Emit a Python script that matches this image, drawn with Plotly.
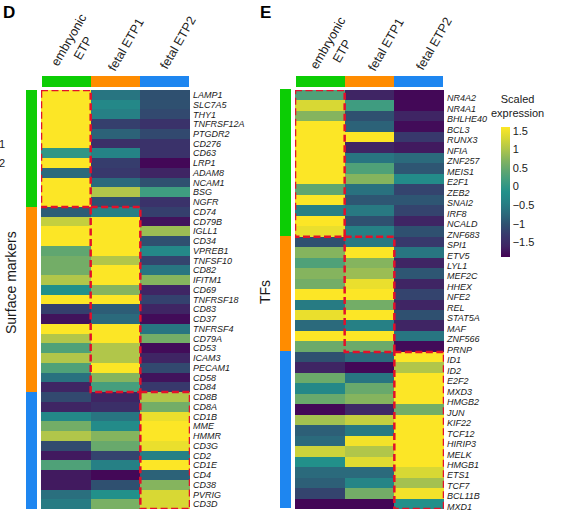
import plotly.graph_objects as go

W, H = 577, 523

d_genes = ["LAMP1","SLC7A5","THY1","TNFRSF12A","PTGDR2","CD276","CD63","LRP1","ADAM8","NCAM1","BSG","NGFR",
           "CD74","CD79B","IGLL1","CD34","VPREB1","TNFSF10","CD82","IFITM1","CD69","TNFRSF18","CD83","CD37","TNFRSF4","CD79A","CD53","ICAM3","PECAM1","CD58","CD84",
           "CD8B","CD8A","CD1B","MME","HMMR","CD3G","CD2","CD1E","CD4","CD38","PVRIG","CD3D"]
d_emb = [1.6,1.6,1.6,1.6,1.6,1.6,0.0,1.6,-0.73,1.6,1.6,1.6,
         -0.88,1.17,1.6,1.6,0.44,0.59,0.59,1.03,-0.15,1.6,-1.23,-1.75,1.6,1.03,0.29,1.03,0.29,-0.64,-1.61,
         -1.11,-1.61,-0.29,0.59,1.03,-1.08,-1.70,0.29,-1.70,-1.70,-0.67,-0.50]
d_f1 = [-0.58,-0.29,-0.44,-1.23,-0.82,-1.46,-0.38,-1.26,-1.32,-0.73,1.03,-1.02,
        -0.44,1.6,1.6,1.6,1.6,1.03,1.6,1.6,0.73,1.6,-0.88,-0.73,1.6,1.6,1.03,1.03,1.6,0.73,0.21,
        -1.61,-1.46,-0.58,-0.23,0.73,0.50,-1.17,-0.44,-1.84,-1.02,-0.15,0.64]
d_f2 = [-1.02,-1.02,-1.11,-1.40,-1.11,-1.40,-1.40,-1.84,-1.61,-1.02,0.15,-1.40,
        -1.23,-1.75,0.88,-1.02,-0.29,-1.17,-0.58,0.73,-1.61,-1.20,-1.61,-1.81,-0.58,0.59,-1.81,-1.61,-1.11,-1.75,-1.32,
        1.03,0.59,1.46,1.6,1.6,1.46,-0.44,1.6,-0.82,0.73,1.32,1.32]

e_genes = ["NR4A2","NR4A1","BHLHE40","BCL3","RUNX3","NFIA","ZNF257","MEIS1","E2F1","ZEB2","SNAI2","IRF8","NCALD","ZNF683",
           "SPI1","ETV5","LYL1","MEF2C","HHEX","NFE2","REL","STAT5A","MAF","ZNF566","PRNP",
           "ID1","ID2","E2F2","MXD3","HMGB2","JUN","KIF22","TCF12","HIRIP3","MELK","HMGB1","ETS1","TCF7","BCL11B","MXD1"]
e_emb = [0.29,1.32,0.73,1.6,1.6,1.6,1.6,1.6,1.6,0.44,1.6,-0.44,1.6,1.46,
         -1.02,0.73,0.29,0.73,0.59,1.6,-0.50,1.46,-0.73,1.6,0.53,
         -1.02,-1.61,0.53,-0.29,0.50,-1.84,0.94,-0.85,-0.73,1.23,-0.15,-0.73,-0.85,-1.17,-1.87]
e_f1 = [-1.61,0.15,-1.02,-0.82,1.6,-1.61,-0.58,0.29,0.73,-0.64,-0.96,-0.53,-1.02,-0.44,
        -0.53,1.6,0.73,0.88,1.46,1.6,0.59,1.6,-0.44,1.6,0.53,
        -0.73,-1.84,-0.58,0.50,0.73,-1.55,1.17,-0.53,1.52,1.03,1.38,-0.73,-0.35,0.59,-1.87]
e_f2 = [-1.84,-1.84,-1.61,-1.81,-1.32,-1.70,-0.73,-0.96,-0.23,-1.17,-0.96,-1.17,-1.61,-1.02,
        -1.32,-0.58,-1.61,-0.96,-1.61,-1.17,-1.61,-1.02,-1.61,-0.58,-1.81,
        1.6,1.03,1.6,1.6,1.6,0.59,1.6,1.6,1.6,1.6,1.6,1.32,0.94,1.52,-0.15]

columns = ["embryonic<br>ETP", "fetal ETP1", "fetal ETP2"]
d_group_sizes = [12, 19, 12]
e_group_sizes = [14, 11, 15]
group_colors = ["#0CCD05", "#FF8C00", "#1E86F0"]
colorbar_ticks = [1.5, 1, 0.5, 0, -0.5, -1, -1.5]
colorbar_labels = ["1.5", "1", "0.5", "0", "\u22120.5", "\u22121", "\u22121.5"]

palette = ["#440154","#3F2564","#38386C","#2F5070","#2B6A7C","#268085","#22908A",
           "#3F9C80","#60A670","#85B45E","#B0C64A","#D8D834","#FDE725"]
cscale = [[i / (len(palette) - 1), c] for i, c in enumerate(palette)]
ZMIN, ZMAX = -1.9, 1.61
FONT = "Liberation Sans"
TXT = "#1a1a1a"

def xd(a, b): return [a / W, b / W]
def yd(top, bottom): return [1 - bottom / H, 1 - top / H]

fig = go.Figure()

def panel(start, genes, cols, sizes, main_x, main_y, top_x, top_y, side_x, side_y, shift):
    mx, my = (f"x{start}", f"y{start}")
    tx, ty = (f"x{start+1}", f"y{start+1}")
    sx, sy = (f"x{start+2}", f"y{start+2}")
    n = len(genes)
    z = [list(r) for r in zip(*cols)]
    fig.add_trace(go.Heatmap(z=z, x=[0,1,2], y=list(range(n)), xaxis=mx, yaxis=my,
                             colorscale=cscale, zmin=ZMIN, zmax=ZMAX, showscale=False, hoverinfo="skip"))
    fig.add_trace(go.Heatmap(z=[[0,1,2]], x=[0,1,2], y=[0], xaxis=tx, yaxis=ty,
                             colorscale=[[0,group_colors[0]],[0.5,group_colors[1]],[1,group_colors[2]]],
                             showscale=False, hoverinfo="skip"))
    group_idx = [g for g, s in enumerate(sizes) for _ in range(s)]
    fig.add_trace(go.Heatmap(z=[[g] for g in group_idx], x=[0], y=list(range(n)), xaxis=sx, yaxis=sy,
                             colorscale=[[0,group_colors[0]],[0.5,group_colors[1]],[1,group_colors[2]]],
                             showscale=False, hoverinfo="skip"))
    ax = dict(showgrid=False, zeroline=False, showticklabels=False, ticks="", showline=False)
    fig.update_layout({
        f"xaxis{start}": dict(ax, domain=xd(*main_x), range=[-0.5,2.5], anchor=my),
        f"yaxis{start}": dict(showgrid=False, zeroline=False, showline=False, domain=yd(*main_y),
                              range=[n-0.5,-0.5], anchor=mx, side="right", ticks="", tickmode="array",
                              tickvals=list(range(n)), ticktext=genes, ticklabelshift=shift, ticklabelstandoff=2,
                              tickfont=dict(family=FONT, size=9, style="italic", color=TXT)),
        f"xaxis{start+1}": dict(ax, domain=xd(*top_x), range=[-0.5,2.5], anchor=ty),
        f"yaxis{start+1}": dict(ax, domain=yd(*top_y), range=[-0.5,0.5], anchor=tx),
        f"xaxis{start+2}": dict(ax, domain=xd(*side_x), range=[-0.5,0.5], anchor=sy),
        f"yaxis{start+2}": dict(ax, domain=yd(*side_y), range=[n-0.5,-0.5], anchor=sx),
    })
    r0 = -0.5
    for i, s in enumerate(sizes):
        fig.add_shape(type="rect", xref=mx, yref=my, x0=i-0.5, x1=i+0.5, y0=r0, y1=r0+s,
                      line=dict(color="#E3102A", width=2.5, dash="7px,3.5px"), layer="above")
        r0 += s

panel(1, d_genes, (d_emb, d_f1, d_f2), d_group_sizes, (41,190), (90,509), (42,189), (76,87), (26,37), (90,509), 0)
panel(4, e_genes, (e_emb, e_f1, e_f2), e_group_sizes, (295,444), (90,509), (296,443), (76,87), (280,291), (89,508), -3)

fig.data[0].update(showscale=True, colorbar=dict(
    x=501/W, xanchor="left", y=1-127/H, yanchor="top", lenmode="pixels", len=130,
    thicknessmode="pixels", thickness=9, outlinewidth=0, ticks="", ticklabelposition="outside",
    tickmode="array", tickvals=colorbar_ticks, ticktext=colorbar_labels, xpad=0, ypad=0,
    tickfont=dict(family=FONT, size=11, color=TXT)))

def note(text, px, py, size=11, angle=0, bold=False, color=TXT, align="center"):
    fig.add_annotation(text=text, xref="paper", yref="paper", x=px/W, y=1-py/H, showarrow=False,
                       xanchor="center", yanchor="middle", textangle=angle, align=align,
                       font=dict(family=FONT, size=size, color=color, weight="bold" if bold else "normal"))

note("D", 9, 12, 17, bold=True, color="#000")
note("E", 265, 12, 17, bold=True, color="#000")
note("1", 2, 144, 11)
note("2", 2, 163, 11)
note(columns[0], 76, 44, 12.5, -60)
note(columns[1], 126, 45, 12.5, -60)
note(columns[2], 178, 43, 12.5, -60)
note(columns[0], 335, 47, 12.5, -60)
note(columns[1], 386, 45, 12.5, -60)
note(columns[2], 434, 44, 12.5, -60)
note("Surface markers", 11, 283, 14, -90)
note("TFs", 265, 292, 14, -90)
note("Scaled<br>expression", 517, 106, 11)

fig.update_layout(width=W, height=H, margin=dict(l=0, r=0, t=0, b=0, autoexpand=False), autosize=False,
                  paper_bgcolor="white", plot_bgcolor="white", showlegend=False)
fig.write_html("out.html", config={"displayModeBar": False},
               post_script="document.body.style.margin='0';document.body.style.overflow='hidden';")
